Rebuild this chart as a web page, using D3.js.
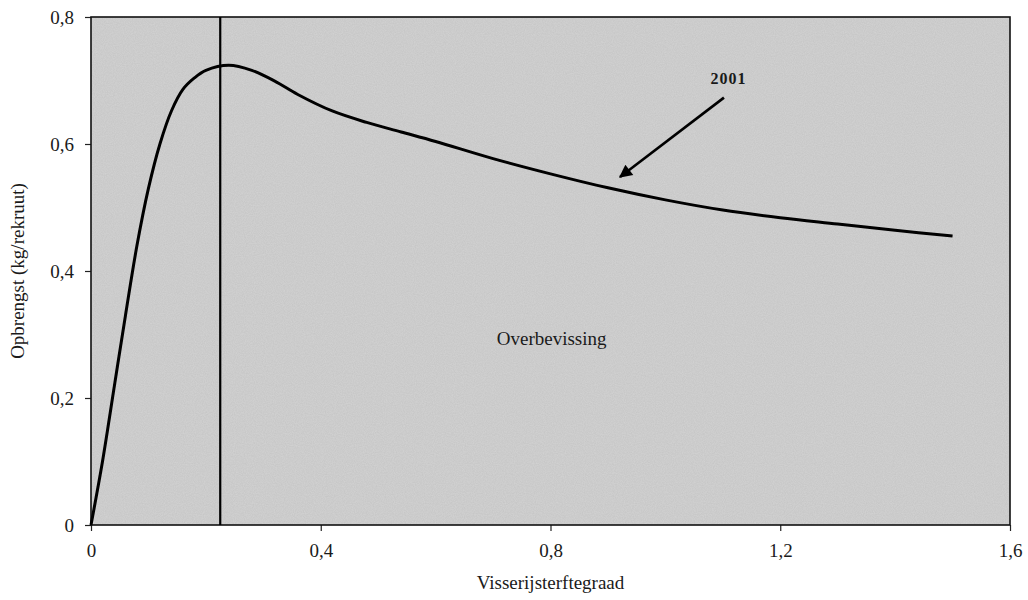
<!DOCTYPE html>
<html>
<head>
<meta charset="utf-8">
<script src="https://cdn.jsdelivr.net/npm/d3@7"></script>
<style>
  body { margin: 0; background: #fff; }
  text { font-family: "Liberation Serif", "DejaVu Serif", serif; fill: #1a1a1a; }
</style>
</head>
<body>
<script>
const width = 1028;
const height = 600;
const margin = {top: 17, right: 18, bottom: 75, left: 91};

// fishing mortality (x) and yield per recruit (y)
const sterfte = [0, 0.02, 0.04, 0.06, 0.08, 0.1, 0.12, 0.14, 0.16, 0.18, 0.2, 0.24, 0.28, 0.32, 0.36, 0.42, 0.48, 0.54, 0.6, 0.7, 0.8, 0.9, 1.0, 1.1, 1.2, 1.3, 1.4, 1.5];
const opbrengst = [0, 0.1, 0.215, 0.33, 0.44, 0.53, 0.6, 0.652, 0.686, 0.704, 0.716, 0.724, 0.716, 0.699, 0.678, 0.652, 0.634, 0.619, 0.604, 0.577, 0.553, 0.531, 0.512, 0.496, 0.484, 0.474, 0.464, 0.455];

const xTicks = [0, 0.4, 0.8, 1.2, 1.6];
const xTickLabels = ["0", "0,4", "0,8", "1,2", "1,6"];
const yTicks = [0, 0.2, 0.4, 0.6, 0.8];
const yTickLabels = ["0", "0,2", "0,4", "0,6", "0,8"];

const refF = 0.225;

const svg = d3.select("body")
  .append("svg")
  .attr("width", width)
  .attr("height", height);

const x = d3.scaleLinear()
  .domain([0, 1.6])
  .range([margin.left, width - margin.right]);

const y = d3.scaleLinear()
  .domain([0, 0.8])
  .range([height - margin.bottom, margin.top]);

// noisy grey background
const defs = svg.append("defs");
const filt = defs.append("filter").attr("id", "grain");
filt.append("feTurbulence")
  .attr("type", "fractalNoise")
  .attr("baseFrequency", 0.9)
  .attr("numOctaves", 2)
  .attr("seed", 3)
  .attr("result", "noise");
filt.append("feColorMatrix")
  .attr("type", "matrix")
  .attr("values", "0 0 0 0 0.76  0 0 0 0 0.76  0 0 0 0 0.76  0 0 0 -0.9 0.75");
filt.append("feComposite").attr("in2", "SourceGraphic").attr("operator", "in");

svg.append("rect")
  .attr("x", x(0))
  .attr("y", y(0.8))
  .attr("width", x(1.6) - x(0))
  .attr("height", y(0) - y(0.8))
  .attr("fill", "#c7c7c7");

svg.append("rect")
  .attr("x", x(0))
  .attr("y", y(0.8))
  .attr("width", x(1.6) - x(0))
  .attr("height", y(0) - y(0.8))
  .attr("fill", "#c7c7c7")
  .attr("filter", "url(#grain)")
  .attr("opacity", 0.6);

// axes
const xAxis = svg.append("g")
  .attr("transform", `translate(0,${y(0)})`)
  .call(d3.axisBottom(x).tickValues(xTicks).tickFormat((d, i) => xTickLabels[i]).tickSize(6).tickPadding(13));

const yAxis = svg.append("g")
  .attr("transform", `translate(${x(0)},0)`)
  .call(d3.axisLeft(y).tickValues(yTicks).tickFormat((d, i) => yTickLabels[i]).tickSize(6).tickPadding(11));

[xAxis, yAxis].forEach(g => {
  g.select(".domain").remove();
  g.selectAll(".tick line").attr("stroke", "#222").attr("stroke-width", 1.2);
  g.selectAll(".tick text")
    .attr("font-family", "Liberation Serif, serif")
    .attr("font-size", 19)
    .attr("fill", "#1a1a1a");
});

// frame
svg.append("rect")
  .attr("x", x(0))
  .attr("y", y(0.8))
  .attr("width", x(1.6) - x(0))
  .attr("height", y(0) - y(0.8))
  .attr("fill", "none")
  .attr("stroke", "#111")
  .attr("stroke-width", 1.6);

// reference line
svg.append("line")
  .attr("x1", x(refF)).attr("x2", x(refF))
  .attr("y1", y(0.8)).attr("y2", y(0))
  .attr("stroke", "#000")
  .attr("stroke-width", 2.2);

// yield curve
const line = d3.line()
  .x((d, i) => x(sterfte[i]))
  .y(d => y(d))
  .curve(d3.curveCatmullRom.alpha(0.5));

svg.append("path")
  .datum(opbrengst)
  .attr("d", line)
  .attr("fill", "none")
  .attr("stroke", "#000")
  .attr("stroke-width", 3);

// arrow annotation
defs.append("marker")
  .attr("id", "head")
  .attr("viewBox", "0 0 10 10")
  .attr("refX", 9)
  .attr("refY", 5)
  .attr("markerWidth", 6)
  .attr("markerHeight", 5)
  .attr("markerUnits", "strokeWidth")
  .attr("orient", "auto")
  .append("path")
  .attr("d", "M0,0 L10,5 L0,10 Z")
  .attr("fill", "#000");

svg.append("line")
  .attr("x1", x(1.102)).attr("y1", y(0.673))
  .attr("x2", x(0.921)).attr("y2", y(0.548))
  .attr("stroke", "#000")
  .attr("stroke-width", 2.6)
  .attr("marker-end", "url(#head)");

svg.append("text")
  .attr("x", x(1.11))
  .attr("y", y(0.694))
  .attr("text-anchor", "middle")
  .attr("font-size", 16)
  .attr("font-weight", "bold")
  .attr("letter-spacing", 1)
  .text("2001");

svg.append("text")
  .attr("x", x(0.802))
  .attr("y", y(0.283))
  .attr("text-anchor", "middle")
  .attr("font-size", 19)
  .text("Overbevissing");

// axis titles
svg.append("text")
  .attr("x", (x(0) + x(1.6)) / 2)
  .attr("y", 589)
  .attr("text-anchor", "middle")
  .attr("font-size", 19)
  .text("Visserijsterftegraad");

svg.append("text")
  .attr("transform", `translate(24,${(y(0) + y(0.8)) / 2}) rotate(-90)`)
  .attr("text-anchor", "middle")
  .attr("font-size", 19)
  .text("Opbrengst (kg/rekruut)");
</script>
</body>
</html>
